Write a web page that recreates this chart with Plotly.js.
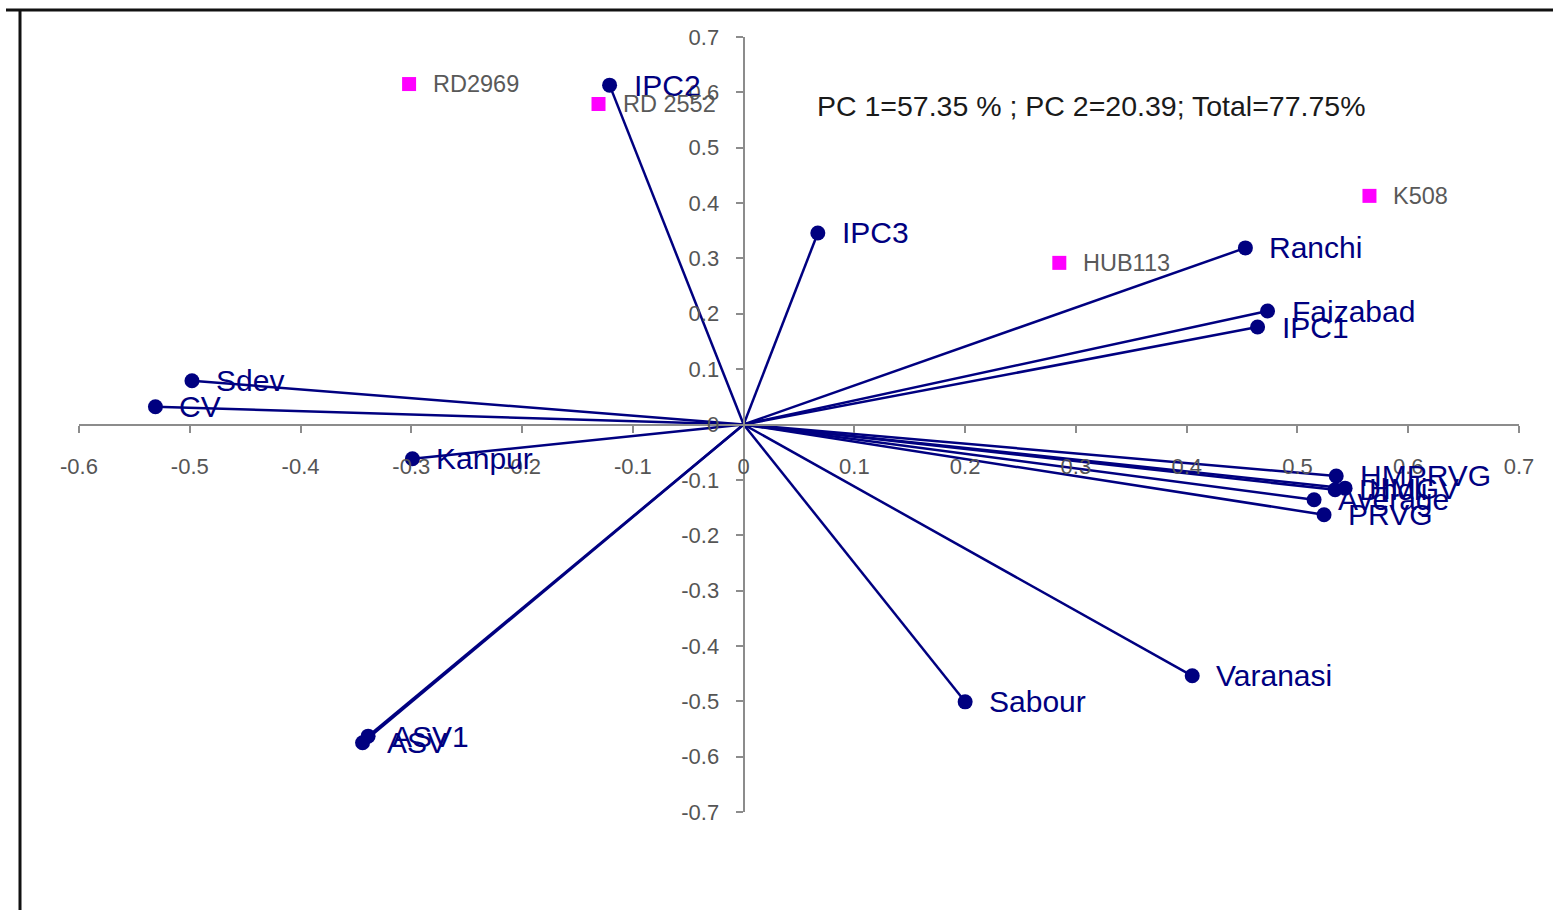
<!DOCTYPE html>
<html>
<head>
<meta charset="utf-8">
<script src="https://cdn.plot.ly/plotly-3.0.1.min.js"></script>
<style>html,body{margin:0;padding:0;background:#fff;}#chart{width:1553px;height:910px;}</style>
</head>
<body>
<div id="chart"></div>
<script>
// Variable (stability parameter / location) loadings
const varNames = ["IPC2","IPC3","Ranchi","Faizabad","IPC1","Sdev","CV","Kanpur","ASV1","ASV","Sabour","Varanasi","HMPRVG","HMGV","Dholi","Average","PRVG"];
const varPC1   = [-0.121, 0.067, 0.453, 0.473, 0.464, -0.498, -0.531, -0.299, -0.339, -0.344, 0.200, 0.405, 0.535, 0.543, 0.534, 0.515, 0.524];
const varPC2   = [ 0.613, 0.346, 0.319, 0.205, 0.176,  0.079,  0.032, -0.062, -0.563, -0.575, -0.501, -0.454, -0.093, -0.115, -0.118, -0.136, -0.163];

// Genotype scores
const genNames = ["RD2969","RD 2552","K508","HUB113"];
const genPC1   = [-0.302, -0.131, 0.565, 0.285];
const genPC2   = [ 0.615,  0.579, 0.413, 0.292];

// Axis ticks
const xTickVals = [-0.6,-0.5,-0.4,-0.3,-0.2,-0.1,0,0.1,0.2,0.3,0.4,0.5,0.6,0.7];
const xTickText = ["-0.6","-0.5","-0.4","-0.3","-0.2","-0.1","0","0.1","0.2","0.3","0.4","0.5","0.6","0.7"];
const yTickVals = [0.7,0.6,0.5,0.4,0.3,0.2,0.1,0,-0.1,-0.2,-0.3,-0.4,-0.5,-0.6,-0.7];
const yTickText = ["0.7","0.6","0.5","0.4","0.3","0.2","0.1","0","-0.1","-0.2","-0.3","-0.4","-0.5","-0.6","-0.7"];

const infoText = "PC 1=57.35 % ; PC 2=20.39; Total=77.75%";

const navy = "#000080";

// vectors from origin
const lx = [], ly = [];
varPC1.forEach((v, i) => { lx.push(0, v, null); ly.push(0, varPC2[i], null); });

const traces = [
  {x: lx, y: ly, mode: "lines", line: {color: navy, width: 2.5}, hoverinfo: "skip", showlegend: false, cliponaxis: false},
  {x: varPC1, y: varPC2, mode: "markers", marker: {color: navy, size: 15}, text: varNames, showlegend: false, cliponaxis: false},
  {x: genPC1, y: genPC2, mode: "markers", marker: {color: "#ff00ff", size: 14, symbol: "square"}, text: genNames, showlegend: false, cliponaxis: false}
];

const annotations = [];
varNames.forEach((n, i) => annotations.push({
  x: varPC1[i], y: varPC2[i], text: n, showarrow: false, xanchor: "left", yanchor: "middle",
  xshift: 22, font: {family: "Liberation Sans, Arial, sans-serif", size: 30, color: navy}
}));
genNames.forEach((n, i) => annotations.push({
  x: genPC1[i], y: genPC2[i], text: n, showarrow: false, xanchor: "left", yanchor: "middle",
  xshift: 22, font: {family: "Liberation Sans, Arial, sans-serif", size: 23.5, color: "#595959"}
}));
annotations.push({
  xref: "paper", yref: "paper", x: (815 - 79) / 1440, y: (812 - 106) / 775, xanchor: "left", yanchor: "middle",
  text: infoText, showarrow: false, font: {family: "Liberation Sans, Arial, sans-serif", size: 28.5, color: "#1a1a1a"}
});

const axisCommon = {
  showgrid: false, zeroline: false, showline: true, linecolor: "#8c8c8c", linewidth: 2,
  ticks: "outside", ticklen: 7, tickwidth: 2, tickcolor: "#8c8c8c",
  tickfont: {family: "Liberation Sans, Arial, sans-serif", size: 22, color: "#555555"},
  tickmode: "array", anchor: "free", fixedrange: true
};

const layout = {
  width: 1553, height: 910,
  margin: {l: 79, r: 34, t: 37, b: 98},
  paper_bgcolor: "#ffffff", plot_bgcolor: "#ffffff",
  showlegend: false,
  xaxis: Object.assign({}, axisCommon, {range: [-0.6, 0.7], tickvals: xTickVals, ticktext: xTickText, position: 0.5, ticklabelstandoff: 15}),
  yaxis: Object.assign({}, axisCommon, {range: [-0.7, 0.7], tickvals: yTickVals, ticktext: yTickText, position: 0.6 / 1.3, ticklabelstandoff: 12}),
  annotations: annotations,
  shapes: [
    {type: "line", xref: "paper", yref: "paper", x0: (6 - 79) / 1440, x1: (1553 - 79) / 1440, y0: (812 - 10) / 775, y1: (812 - 10) / 775, line: {color: "#111", width: 3}},
    {type: "line", xref: "paper", yref: "paper", x0: (20 - 79) / 1440, x1: (20 - 79) / 1440, y0: (812 - 10) / 775, y1: (812 - 910) / 775, line: {color: "#111", width: 3}}
  ]
};

Plotly.newPlot("chart", traces, layout, {displayModeBar: false, staticPlot: true});
</script>
</body>
</html>
